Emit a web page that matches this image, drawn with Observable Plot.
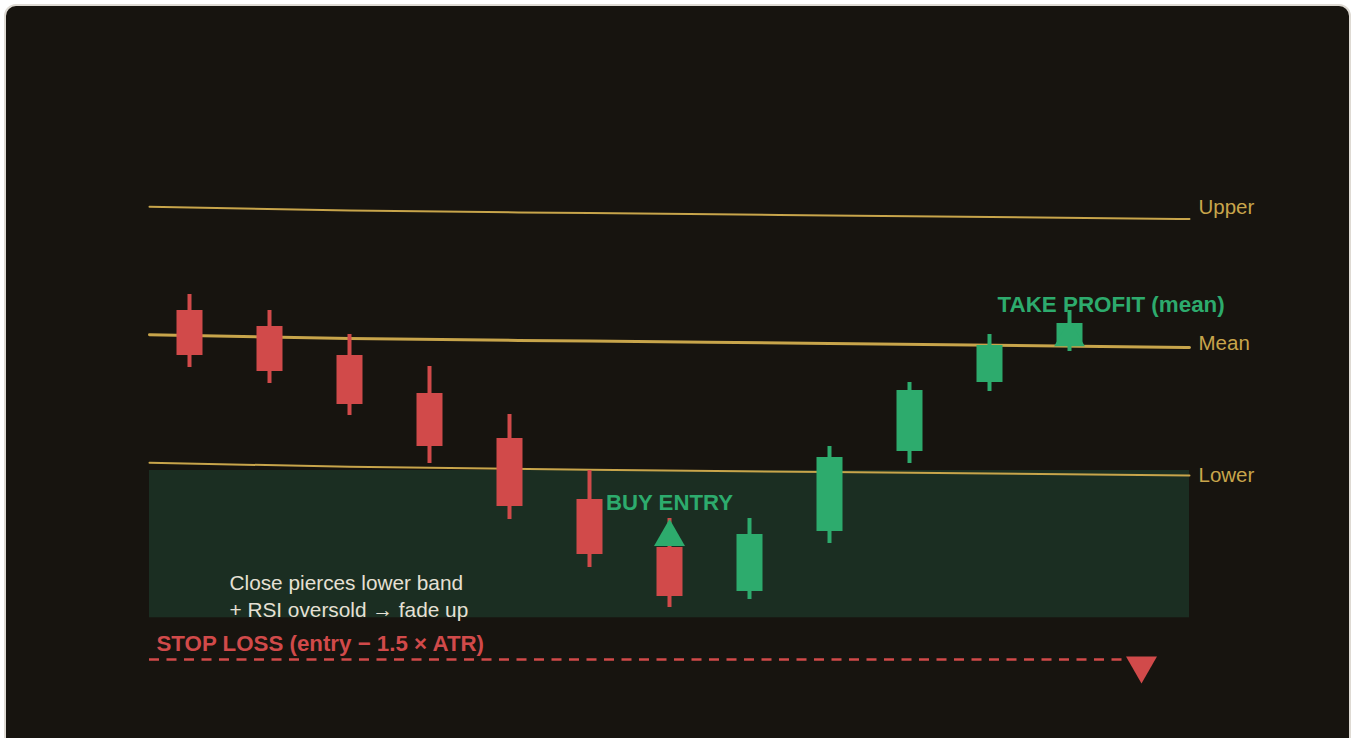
<!DOCTYPE html>
<html><head><meta charset="utf-8">
<script src="https://cdn.jsdelivr.net/npm/d3@7"></script>
<script src="https://cdn.jsdelivr.net/npm/@observablehq/plot@0.6"></script>
<style>
html,body{margin:0;padding:0;background:#ffffff;width:1357px;height:738px;overflow:hidden;}
#panel{position:absolute;left:4px;top:4px;width:1347px;height:770px;box-sizing:border-box;border:2px solid #dedad3;border-radius:12px;background:#17140f;}
#chart{position:absolute;left:0;top:0;}
</style></head>
<body><div id="panel"></div><div id="chart"></div>
<script>
// Candles (index along the session)
const candleIndex = [0,1,2,3,4,5,6,7,8,9,10,11];
const opens  = [103.0, 101.4, 98.5, 94.7, 90.2, 84.1, 79.3, 74.9, 80.9, 88.9, 95.8, 99.6];
const closes = [ 98.5,  96.9, 93.6, 89.4, 83.4, 78.6, 74.4, 80.6, 88.3, 95.0, 99.5, 101.7];
const highs  = [104.6, 103.0, 100.6, 97.4, 92.6, 87.0, 82.2, 82.2, 89.4, 95.8, 100.6, 103.0];
const lows   = [ 97.3,  95.7, 92.5, 87.7, 82.1, 77.3, 73.3, 74.1, 79.7, 87.7, 94.9, 98.9];

// Bands
const bandX     = [-0.5, 2, 5, 8, 12.5];
const upperBand = [113.37, 113.0, 112.74, 112.5, 112.15];
const meanBand  = [100.57, 100.2, 99.94, 99.7, 99.3];
const lowerBand = [87.77, 87.38, 87.07, 86.85, 86.5];
const bandNames = ["Upper", "Mean", "Lower"];
const bandLabelY = [113.35, 99.7, 86.5];

// Oversold zone
const zoneX = [-0.5, 12.5];
const zoneY = [72.27, 87.0];

// Signals
const buyX = 6, buyY = 80.35;
const tpX = 11, tpY = 100.3;
const stopLevel = 68.1;
const stopLineX = [-0.5, 11.76];
const stopMarkX = 11.9, stopMarkY = 67.5;

// Annotations
const buyLabel = {x: 6, y: 83.8, text: "BUY ENTRY"};
const tpLabel = {x: 11.52, y: 103.53, text: "TAKE PROFIT (mean)"};
const stopLabel = {x: -0.5, y: 69.7, text: "STOP LOSS (entry \u2212 1.5 \u00d7 ATR)"};
const noteLabel = {x: 0.5, y: 74.6, text: "Close pierces lower band\n+ RSI oversold \u2192 fade up"};

const RED = "#d14a4a", GREEN = "#2dab6d", GOLD = "#c8a54b", ZONE = "#1b2e22";

const candles = candleIndex.map((i, k) => ({i, open: opens[k], close: closes[k], high: highs[k], low: lows[k]}));
const colorOf = d => d.close >= d.open ? GREEN : RED;
const bandRows = (arr) => bandX.map((x, k) => ({x, y: arr[k]}));

const plot = Plot.plot({
  width: 1357, height: 738,
  marginTop: 0, marginRight: 0, marginBottom: 0, marginLeft: 0,
  x: {type: "linear", domain: [-0.5, 12.5], range: [149, 1189], axis: null},
  y: {type: "linear", domain: [60, 120], range: [740, 140], axis: null},
  style: {background: "transparent", fontFamily: "'Liberation Sans', Arial, sans-serif"},
  marks: [
    Plot.rect([0], {x1: zoneX[0], x2: zoneX[1], y1: zoneY[0], y2: zoneY[1], fill: ZONE}),
    Plot.line(bandRows(upperBand), {x: "x", y: "y", stroke: GOLD, strokeWidth: 2, curve: "monotone-x"}),
    Plot.line(bandRows(meanBand), {x: "x", y: "y", stroke: GOLD, strokeWidth: 3, curve: "monotone-x"}),
    Plot.line(bandRows(lowerBand), {x: "x", y: "y", stroke: GOLD, strokeWidth: 2, curve: "monotone-x"}),
    Plot.text(bandNames, {x: 12.5, y: (d, k) => bandLabelY[k], text: d => d, dx: 9, textAnchor: "start", fill: GOLD, fontSize: 20.5}),
    Plot.ruleX(candles, {x: "i", y1: "low", y2: "high", stroke: colorOf, strokeWidth: 4}),
    Plot.ruleX(candles, {x: "i", y1: "open", y2: "close", stroke: colorOf, strokeWidth: 26, strokeLinecap: "butt"}),
    Plot.dot([0], {x: buyX, y: buyY, symbol: "triangle", r: 11.5, fill: GREEN, stroke: null}),
    Plot.dot([0], {x: tpX, y: tpY, symbol: "triangle", r: 11.4, fill: GREEN, stroke: null}),
    Plot.ruleY([stopLevel], {x1: stopLineX[0], x2: stopLineX[1], stroke: RED, strokeWidth: 2.5, strokeDasharray: "10,7.5"}),
    Plot.dot([0], {x: stopMarkX, y: stopMarkY, symbol: "triangle", rotate: 180, r: 11.5, fill: RED, stroke: null}),
    Plot.text([buyLabel], {x: "x", y: "y", text: "text", fill: GREEN, fontSize: 22.2, fontWeight: "bold", textAnchor: "middle"}),
    Plot.text([tpLabel], {x: "x", y: "y", text: "text", fill: GREEN, fontSize: 22.4, fontWeight: "bold", textAnchor: "middle"}),
    Plot.text([stopLabel], {x: "x", y: "y", text: "text", dx: 7, fill: RED, fontSize: 22.3, fontWeight: "bold", textAnchor: "start"}),
    Plot.text([noteLabel], {x: "x", y: "y", text: "text", fill: "#e6e0d4", fontSize: 20.8, lineHeight: 1.3, textAnchor: "start"})
  ]
});
document.getElementById("chart").appendChild(plot);
</script>
</body></html>
